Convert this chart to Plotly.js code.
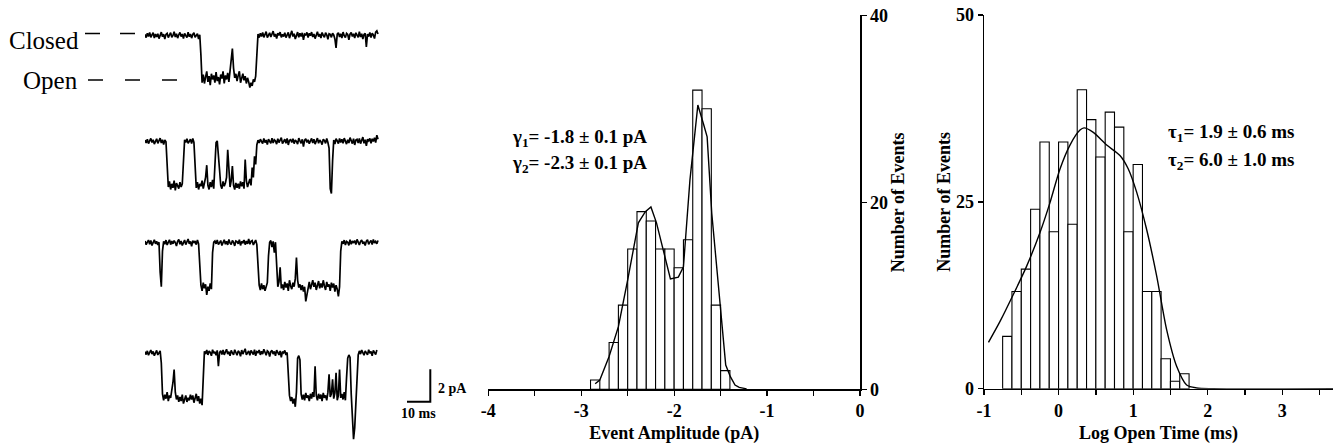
<!DOCTYPE html>
<html>
<head>
<meta charset="utf-8">
<script src="https://cdn.plot.ly/plotly-3.0.1.min.js"></script>
<style>
html,body{margin:0;padding:0;background:#fff;}
#chart{width:1335px;height:445px;}
</style>
</head>
<body>
<div id="chart"></div>
<script>
// ---------------- DATA ----------------
// Event amplitude histogram (pA), bin width 0.1
const ampCenters = [-2.85,-2.75,-2.65,-2.55,-2.45,-2.35,-2.25,-2.15,-2.05,-1.95,-1.85,-1.75,-1.65,-1.55,-1.45];
const ampCounts  = [1,0,5,9,15,19,18,15,15,13,16,32,30,9,2];
const ampBinWidth = 0.1;
// fitted curve (two gaussians)
const ampFitX = [-2.85,-2.80,-2.70,-2.60,-2.50,-2.44,-2.385,-2.31,-2.25,-2.19,-2.12,-2.04,-1.955,-1.90,-1.83,-1.745,-1.685,-1.645,-1.595,-1.495,-1.445,-1.395,-1.345,-1.30,-1.22];
const ampFitY = [0.6,1.0,3.5,6.7,11.7,14.9,17.8,19.0,19.5,17.8,14.9,11.8,12.0,13.1,22.4,30.4,28.4,27.0,18.8,8.5,2.6,1.35,0.46,0.2,0.05];

// Log open time histogram, bin width 0.125
const openCenters = [-0.6875,-0.5625,-0.4375,-0.3125,-0.1875,-0.0625,0.0625,0.1875,0.3125,0.4375,0.5625,0.6875,0.8125,0.9375,1.0625,1.1875,1.3125,1.4375,1.5625,1.6875];
const openCounts  = [7,13,16,24,33,21,33,22,40,36,31,37,35,21,30,13,13,4,1,2];
const openBinWidth = 0.125;
const openFitX = [-0.94,-0.785,-0.607,-0.428,-0.249,-0.115,0.019,0.153,0.287,0.341,0.466,0.645,0.823,0.935,1.047,1.181,1.315,1.449,1.583,1.717,1.851,2.07,3.68];
const openFitY = [6.2,9.0,12.6,16.4,20.9,24.9,29.4,32.6,34.6,34.9,34.3,32.6,31.2,29.4,26.3,21.3,15.1,7.9,3.0,0.5,0.1,0,0];

// Single-channel current records (pA), one sample every traceDt ms
const traceDt = 0.5;
const trace1 = [
 0.08,-0.12,0.15,-0.05,0.20,-0.10,0.05,0.18,-0.15,0.10,
 -0.08,0.12,-0.18,0.05,0.22,-0.06,0.10,-0.20,0.08,0.15,
 -0.12,0.05,0.18,-0.10,0.02,0.25,-0.08,0.12,-0.15,0.06,
 0.20,-0.05,0.10,-0.18,0.14,0.00,-0.12,0.22,-0.06,0.10,
 -0.15,0.08,0.18,-0.10,0.05,0.12,-0.20,0.06,-1.20,-2.90,
 -2.40,-2.95,-2.55,-2.20,-2.85,-2.50,-3.05,-2.35,-2.70,-2.45,
 -2.90,-2.25,-2.80,-2.55,-3.00,-2.40,-2.65,-2.20,-2.95,-2.45,
 -2.70,-2.30,-2.85,-2.10,-1.60,-0.80,-2.00,-2.60,-2.35,-2.80,
 -2.45,-2.20,-2.90,-2.55,-2.35,-2.75,-2.50,-2.95,-2.60,-2.85,
 -3.20,-2.90,-3.10,-2.70,-2.85,-2.50,-1.30,0.10,-0.12,0.15,
 -0.05,0.20,-0.10,0.08,0.25,-0.12,0.05,0.18,-0.08,0.12,
 0.28,-0.05,0.10,-0.18,0.15,0.02,0.22,-0.10,0.08,-0.05,
 0.18,-0.12,0.06,0.20,-0.15,0.10,0.30,-0.05,0.12,-0.20,
 0.08,0.22,-0.10,0.15,-0.05,0.18,-0.25,0.10,0.05,0.20,
 -0.12,0.15,0.00,0.22,-0.08,0.10,-0.18,0.12,0.25,-0.05,
 0.10,-0.15,0.20,0.02,-0.10,0.18,0.05,-0.22,0.12,0.08,
 -0.10,0.15,0.05,-0.20,-0.75,0.10,0.18,-0.08,0.12,-0.15,
 0.22,0.00,-0.12,0.15,0.08,-0.25,0.10,0.20,-0.05,0.12,
 -0.15,0.18,0.05,-0.10,0.25,-0.08,0.12,-0.20,0.08,0.15,
 -0.70,0.10,-0.05,0.20,-0.12,0.15,0.05,-0.18,0.22,0.30,
 0.10];
const trace2 = [
 0.10,-0.08,0.15,-0.12,0.05,0.20,-0.05,0.12,-0.15,0.08,
 0.18,-0.10,0.05,0.22,-0.08,0.12,-0.18,0.10,0.00,-1.40,
 -2.80,-2.45,-2.95,-2.60,-2.85,-2.40,-3.00,-2.55,-2.75,-2.90,
 -2.50,-2.80,-2.60,-0.90,0.12,-0.05,0.18,-0.10,0.08,0.15,
 -0.12,0.20,-0.05,-1.80,-2.85,-2.50,-2.95,-2.60,-2.75,-2.40,
 -2.90,-2.55,-2.20,-1.45,-2.70,-2.95,-2.50,-2.80,-2.35,-2.90,
 -1.00,-0.05,0.05,-1.20,-1.75,-2.70,-2.90,-2.45,-2.75,-2.55,
 -2.20,-0.50,-1.60,-2.80,-2.40,-1.50,-2.70,-2.95,-2.55,-2.85,
 -2.60,-2.90,-2.45,-2.75,-2.50,-2.90,-1.10,-2.40,-2.80,-2.60,
 -2.30,-2.70,-1.60,-2.20,-0.90,-1.40,-0.20,0.10,-0.08,0.15,
 0.05,-0.12,0.20,-0.05,0.10,-0.18,0.15,0.02,-0.10,0.22,
 -0.08,0.12,0.05,-0.15,0.18,-0.05,0.10,0.25,-0.12,0.05,
 0.15,-0.10,0.20,-0.20,0.08,0.12,-0.05,0.18,-0.12,0.10,
 0.02,-0.15,0.22,0.05,-0.10,0.15,-0.30,0.10,0.18,-0.05,
 0.12,-0.12,0.08,0.20,-0.08,0.15,-0.15,0.05,0.22,-0.10,
 0.10,0.00,-0.18,0.15,0.08,-0.10,0.20,-0.05,-0.40,-2.90,
 -3.20,-1.20,0.10,-0.15,0.18,0.05,-0.12,0.20,-0.05,0.15,
 -0.10,0.22,0.08,-0.15,0.12,-0.08,0.25,0.00,-0.12,0.18,
 -0.20,0.10,0.15,-0.08,0.20,-0.12,0.05,0.28,-0.10,0.12,
 -0.25,0.15,0.05,0.20,-0.10,0.18,0.02,0.25,-0.05,0.40,
 0.15];
const trace3 = [
 0.12,-0.10,0.05,0.18,-0.08,0.15,-0.15,0.08,0.20,-0.05,
 0.10,-0.12,0.05,-1.80,-2.70,-0.50,0.10,-0.08,0.18,-0.12,
 0.05,0.20,-0.10,0.12,-0.05,0.15,0.02,-0.18,0.10,0.22,
 -0.08,0.12,-0.15,0.05,0.18,-0.10,0.08,0.25,-0.05,0.10,
 -0.20,0.15,0.00,0.12,-0.10,0.18,-0.05,-1.60,-2.60,-2.95,
 -2.45,-2.80,-2.55,-3.20,-2.70,-2.95,-2.50,-2.85,-0.60,0.05,
 0.12,-0.05,0.18,-0.10,0.08,0.15,-0.15,0.05,0.20,-0.08,
 0.10,-0.12,0.22,0.00,-0.10,0.15,0.05,-0.18,0.12,0.08,
 -0.05,0.20,-0.15,0.10,0.02,0.18,-0.10,0.12,-0.05,0.25,
 -0.08,0.10,0.15,-0.12,0.05,0.18,-0.10,-1.50,-2.60,-2.90,
 -2.50,-2.85,-2.60,-2.95,-2.70,-2.45,-0.80,0.05,0.15,-0.25,
 0.10,-0.60,0.05,-1.80,-2.70,-2.40,-1.50,-2.80,-2.55,-2.90,
 -2.40,-2.75,-2.50,-2.95,-2.30,-2.65,-2.85,-2.45,-2.70,-2.20,
 -0.90,-2.30,-2.75,-2.55,-2.90,-2.60,-3.00,-2.70,-3.60,-3.20,
 -2.70,-2.40,-2.85,-2.55,-2.30,-2.70,-2.45,-2.90,-2.60,-2.35,
 -2.80,-2.50,-2.75,-2.30,-2.65,-2.90,-2.40,-2.70,-2.55,-2.95,
 -2.45,-2.75,-2.50,-3.00,-2.60,-2.85,-3.30,-2.70,-0.50,0.10,
 -0.05,0.18,-0.12,0.10,0.05,-0.15,0.20,-0.08,0.12,0.00,
 0.15,-0.10,0.22,0.05,-0.12,0.10,0.18,-0.05,0.08,-0.15,
 0.12,0.20,-0.08,0.05,0.15,-0.10,0.22,0.00,0.10,-0.05,
 0.15];
const trace4 = [
 0.10,-0.08,0.15,-0.12,0.05,0.20,-0.05,0.12,-0.15,0.08,
 0.18,-0.10,0.05,0.15,-0.60,-2.50,-2.90,-2.55,-2.80,-2.40,
 -2.95,-2.60,-2.75,-2.30,-1.80,-1.00,-2.40,-2.85,-2.60,-3.00,
 -2.70,-2.95,-2.55,-3.10,-2.80,-2.60,-3.00,-2.75,-2.90,-2.55,
 -2.85,-2.60,-3.05,-2.70,-2.50,-2.95,-2.65,-3.10,-2.80,-3.20,
 -1.00,0.12,-0.05,0.20,-0.10,0.15,0.05,-0.15,0.22,0.00,
 0.10,-0.12,0.18,-0.80,0.05,0.15,-0.08,0.20,-0.10,0.12,
 0.25,-0.05,0.10,-0.15,0.18,0.02,-0.10,0.22,0.08,-0.12,
 0.15,0.05,-0.18,0.20,-0.05,0.12,0.28,-0.10,0.08,0.15,
 -0.12,0.18,0.05,-0.08,0.22,-0.15,0.10,0.05,0.20,-0.10,
 0.12,-0.05,0.25,0.00,-0.12,0.15,0.08,-0.20,0.10,0.18,
 -0.05,0.12,-0.15,0.20,0.05,-0.10,0.15,-0.25,0.10,0.02,
 0.18,-0.10,0.05,-1.60,-2.60,-2.95,-2.70,-3.10,-2.80,-3.30,
 -2.40,-0.30,-0.15,-0.40,-2.50,-2.85,-2.55,-2.90,-2.45,-2.75,
 -2.60,-2.95,-2.50,-2.80,-2.40,-2.70,-0.80,-2.60,-2.90,-2.50,
 -2.80,-2.55,-2.95,-2.45,-2.75,-2.60,-2.90,-2.40,-1.30,-2.70,
 -2.50,-1.60,-2.80,-2.45,-1.20,-2.90,-2.60,-1.00,-2.75,-2.50,
 -2.85,-2.40,-2.90,-1.50,-0.30,-0.10,-0.25,-2.50,-4.20,-5.30,
 -4.60,-2.80,-1.00,-0.10,0.15,-0.05,0.20,0.08,-0.12,0.15,
 0.05,-0.10,0.22,0.00,0.12,-0.15,0.18,0.05,-0.08,0.20];

// scale bar sizes
const scaleBarMs = 10;
const scaleBarPA = 2;

// tick labels
const ampTickVals = [-4,-3,-2,-1,0];
const ampTickText = ['-4','-3','-2','-1','0'];
const ampCountTicks = [0,20,40];
const openTickVals = [-1,0,1,2,3];
const openTickText = ['-1','0','1','2','3'];
const openCountTicks = [0,25,50];

// ---------------- LAYOUT HELPERS ----------------
const W = 1335, H = 445;
const fx = px => px / W;
const fy = py => 1 - py / H;
const SERIF = 'Liberation Serif, Times New Roman, serif';
const boldFont = (s) => ({family: SERIF, size: s, color: '#000', weight: 'bold'});
const plainFont = (s) => ({family: SERIF, size: s, color: '#000', weight: 'normal'});

const pxPerMs = 2.33, pxPerPA = 16.2;
const traceLeftPx = 145, traceMsRange = [0, 125];
const traceRange = [-5.6, 0.8];
const traceZeroPx = [35.7, 141.7, 243, 353.3];

function traceDomain(zeroPx) {
  const top = zeroPx - traceRange[1] * pxPerPA;
  const bot = zeroPx - traceRange[0] * pxPerPA;
  return [fy(bot), fy(top)];
}

const xs = arr => arr.map((_, i) => i * traceDt);

const data = [
  {type: 'bar', x: ampCenters, y: ampCounts, width: ampBinWidth, xaxis: 'x', yaxis: 'y',
   marker: {color: '#fff', line: {color: '#000', width: 1.1}}, hoverinfo: 'none'},
  {type: 'scatter', mode: 'lines', x: ampFitX, y: ampFitY, xaxis: 'x', yaxis: 'y',
   line: {color: '#000', width: 1.4}, hoverinfo: 'none'},
  {type: 'bar', x: openCenters, y: openCounts, width: openBinWidth, xaxis: 'x2', yaxis: 'y2',
   marker: {color: '#fff', line: {color: '#000', width: 1.1}}, hoverinfo: 'none'},
  {type: 'scatter', mode: 'lines', x: openFitX, y: openFitY, xaxis: 'x2', yaxis: 'y2',
   line: {color: '#000', width: 1.4, shape: 'spline', smoothing: 0.8}, hoverinfo: 'none'}
];
[trace1, trace2, trace3, trace4].forEach((tr, k) => {
  data.push({type: 'scatter', mode: 'lines', x: xs(tr), y: tr, xaxis: 'x3', yaxis: 'y' + (3 + k),
    line: {color: '#000', width: 1.7}, hoverinfo: 'none'});
});
// scale bar
const sbX0 = (407 - traceLeftPx) / pxPerMs;
data.push({type: 'scatter', mode: 'lines', x: [sbX0, sbX0 + scaleBarMs, sbX0 + scaleBarMs],
  y: [0, 0, scaleBarPA], xaxis: 'x3', yaxis: 'y7', line: {color: '#000', width: 2}, hoverinfo: 'none'});

const sbDomPx = [360, 405];
const sbLo = -(405 - 401.7) / pxPerPA;
const sbRange = [sbLo, sbLo + (sbDomPx[1] - sbDomPx[0]) / pxPerPA];

const hidden = {visible: false, showgrid: false, zeroline: false, fixedrange: true};

const axisCommon = {
  showline: true, linecolor: '#000', linewidth: 1.5,
  ticks: 'outside', ticklen: 5, tickwidth: 1.3, tickcolor: '#000',
  showgrid: false, zeroline: false, automargin: false, tickfont: boldFont(18)
};

const layout = {
  width: W, height: H,
  margin: {l: 0, r: 0, t: 0, b: 0},
  paper_bgcolor: '#fff', plot_bgcolor: 'rgba(0,0,0,0)',
  showlegend: false, bargap: 0,
  font: {family: SERIF, color: '#000'},
  xaxis: Object.assign({}, axisCommon, {domain: [fx(488.3), fx(860)], range: [-4, 0], anchor: 'y',
    tickvals: ampTickVals, ticktext: ampTickText,
    minor: {dtick: 0.5, tick0: 0, ticks: 'outside', ticklen: 5, tickwidth: 1.3, tickcolor: '#000'},
    title: {text: 'Event Amplitude (pA)', font: boldFont(18), standoff: 6}}),
  yaxis: Object.assign({}, axisCommon, {domain: [fy(389.3), fy(15.3)], range: [0, 40], anchor: 'x', side: 'right',
    tickvals: ampCountTicks, ticktext: ampCountTicks.map(String),
    title: {text: 'Number of Events', font: boldFont(18), standoff: 3}}),
  xaxis2: Object.assign({}, axisCommon, {domain: [fx(984), fx(1333)], range: [-1, 3.68], anchor: 'y2',
    tickvals: openTickVals, ticktext: openTickText,
    minor: {dtick: 0.5, tick0: 0, ticks: 'outside', ticklen: 5, tickwidth: 1.3, tickcolor: '#000'},
    title: {text: 'Log Open Time (ms)', font: boldFont(18), standoff: 6}}),
  yaxis2: Object.assign({}, axisCommon, {domain: [fy(388.7), fy(15)], range: [0, 50], anchor: 'x2', side: 'left',
    tickvals: openCountTicks, ticktext: openCountTicks.map(String),
    title: {text: 'Number of Events', font: boldFont(18), standoff: 0}}),
  xaxis3: Object.assign({domain: [fx(traceLeftPx), fx(traceLeftPx + (traceMsRange[1] - traceMsRange[0]) * pxPerMs)],
    range: traceMsRange, anchor: 'y3'}, hidden),
  yaxis3: Object.assign({domain: traceDomain(traceZeroPx[0]), range: traceRange, anchor: 'x3'}, hidden),
  yaxis4: Object.assign({domain: traceDomain(traceZeroPx[1]), range: traceRange, anchor: 'x3'}, hidden),
  yaxis5: Object.assign({domain: traceDomain(traceZeroPx[2]), range: traceRange, anchor: 'x3'}, hidden),
  yaxis6: Object.assign({domain: traceDomain(traceZeroPx[3]), range: traceRange, anchor: 'x3'}, hidden),
  yaxis7: Object.assign({domain: [fy(sbDomPx[1]), fy(sbDomPx[0])], range: sbRange, anchor: 'x3'}, hidden),
  shapes: [
    {type: 'line', xref: 'paper', yref: 'paper', x0: fx(85), x1: fx(137), y0: fy(33.5), y1: fy(33.5),
     line: {color: '#000', width: 1.6, dash: '15px,20px'}},
    {type: 'line', xref: 'paper', yref: 'paper', x0: fx(88), x1: fx(177), y0: fy(80), y1: fy(80),
     line: {color: '#000', width: 1.6, dash: '15px,22px'}}
  ],
  annotations: [
    {xref: 'paper', yref: 'paper', x: fx(7), y: fy(40), xanchor: 'left', yanchor: 'middle', showarrow: false,
     text: 'Closed', font: plainFont(25)},
    {xref: 'paper', yref: 'paper', x: fx(21), y: fy(80), xanchor: 'left', yanchor: 'middle', showarrow: false,
     text: 'Open', font: plainFont(25)},
    {xref: 'paper', yref: 'paper', x: fx(436), y: fy(388), xanchor: 'left', yanchor: 'middle', showarrow: false,
     text: scaleBarPA + ' pA', font: boldFont(14)},
    {xref: 'paper', yref: 'paper', x: fx(418.5), y: fy(413), xanchor: 'center', yanchor: 'middle', showarrow: false,
     text: scaleBarMs + ' ms', font: boldFont(14)},
    {xref: 'paper', yref: 'paper', x: fx(510), y: fy(138), xanchor: 'left', yanchor: 'middle', showarrow: false,
     text: 'γ<sub>1</sub>= -1.8 ± 0.1 pA', font: boldFont(19)},
    {xref: 'paper', yref: 'paper', x: fx(510), y: fy(164), xanchor: 'left', yanchor: 'middle', showarrow: false,
     text: 'γ<sub>2</sub>= -2.3 ± 0.1 pA', font: boldFont(19)},
    {xref: 'paper', yref: 'paper', x: fx(1166), y: fy(133), xanchor: 'left', yanchor: 'middle', showarrow: false,
     text: 'τ<sub>1</sub>= 1.9 ± 0.6 ms', font: boldFont(19)},
    {xref: 'paper', yref: 'paper', x: fx(1166), y: fy(161), xanchor: 'left', yanchor: 'middle', showarrow: false,
     text: 'τ<sub>2</sub>= 6.0 ± 1.0 ms', font: boldFont(19)}
  ]
};

Plotly.newPlot('chart', data, layout, {staticPlot: true, displayModeBar: false});
</script>
</body>
</html>
